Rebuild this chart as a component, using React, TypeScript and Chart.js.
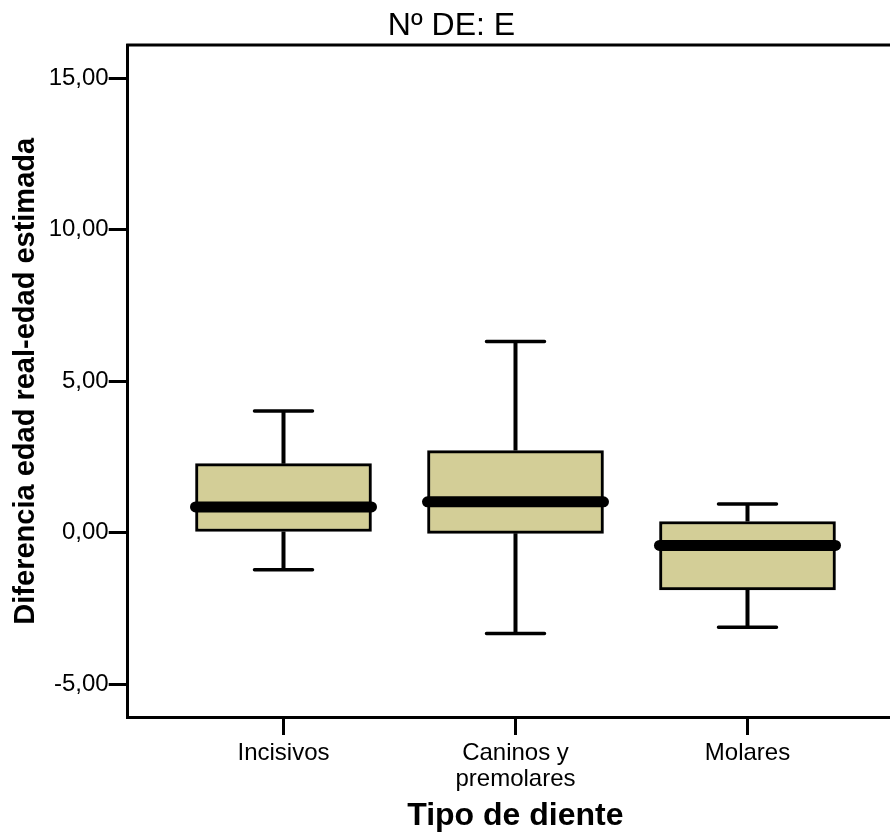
import React, { useEffect, useRef } from 'react';
import { Chart, registerables } from 'chart.js';

Chart.register(...registerables);

// ---- data ----
const categories: (string | string[])[] = ['Incisivos', ['Caninos y', 'premolares'], 'Molares'];
const whiskerLow = [-1.22, -3.33, -3.12];
const q1 = [0.04, -0.02, -1.89];
const medians = [0.85, 1.02, -0.42];
const q3 = [2.28, 2.71, 0.37];
const whiskerHigh = [4.02, 6.31, 0.95];
const yTicks = [-5, 0, 5, 10, 15];
const chartTitle = 'Nº DE: E';
const xTitle = 'Tipo de diente';
const yTitle = 'Diferencia edad real-edad estimada';

const FONT = "'Liberation Sans', Arial, Helvetica, sans-serif";
const BOX_FILL = 'rgb(211, 206, 151)';
const BOX_WIDTH = 176;

const boxPlugin = {
  id: 'boxWhiskers',
  beforeDatasetsDraw(chart: any) {
    const { ctx, chartArea } = chart;
    ctx.save();
    ctx.strokeStyle = '#000';
    ctx.lineWidth = 3;
    ctx.beginPath();
    ctx.moveTo(chartArea.left - 1.5, chartArea.top);
    ctx.lineTo(chartArea.right + 20, chartArea.top);
    ctx.stroke();
    ctx.restore();
  },
  afterDatasetsDraw(chart: any) {
    const { ctx } = chart;
    const xs = chart.scales.x;
    const ys = chart.scales.y;
    ctx.save();
    ctx.strokeStyle = '#000';
    categories.forEach((_, i) => {
      const cx = xs.getPixelForValue(i + 1);
      const yMin = ys.getPixelForValue(whiskerLow[i]);
      const yQ1 = ys.getPixelForValue(q1[i]);
      const yMed = ys.getPixelForValue(medians[i]);
      const yQ3 = ys.getPixelForValue(q3[i]);
      const yMax = ys.getPixelForValue(whiskerHigh[i]);
      // stems
      ctx.lineWidth = 4;
      ctx.lineCap = 'butt';
      ctx.beginPath();
      ctx.moveTo(cx, yQ3);
      ctx.lineTo(cx, yMax);
      ctx.moveTo(cx, yQ1);
      ctx.lineTo(cx, yMin);
      ctx.stroke();
      // caps
      ctx.lineWidth = 3.5;
      ctx.lineCap = 'round';
      ctx.beginPath();
      ctx.moveTo(cx - 29, yMax);
      ctx.lineTo(cx + 29, yMax);
      ctx.moveTo(cx - 29, yMin);
      ctx.lineTo(cx + 29, yMin);
      ctx.stroke();
      // median
      ctx.lineWidth = 11;
      ctx.lineCap = 'round';
      ctx.beginPath();
      ctx.moveTo(cx - BOX_WIDTH / 2, yMed);
      ctx.lineTo(cx + BOX_WIDTH / 2, yMed);
      ctx.stroke();
    });
    ctx.restore();
  },
};

export default function App() {
  const canvasRef = useRef<HTMLCanvasElement | null>(null);

  useEffect(() => {
    if (!canvasRef.current) return;
    const chart = new Chart(canvasRef.current, {
      type: 'bar',
      data: {
        datasets: [
          {
            data: categories.map((_, i) => ({ x: i + 1, y: [q1[i], q3[i]] })) as any,
            backgroundColor: BOX_FILL,
            borderColor: '#000',
            borderWidth: 3,
            borderSkipped: false,
            barThickness: BOX_WIDTH,
          },
        ],
      },
      options: {
        animation: false,
        responsive: false,
        devicePixelRatio: 1,
        layout: { padding: { left: 0, right: 7, top: 0, bottom: 0 } },
        plugins: {
          legend: { display: false },
          tooltip: { enabled: false },
          title: {
            display: true,
            text: chartTitle,
            color: '#000',
            font: { family: FONT, size: 32, weight: 'normal', lineHeight: 1 },
            padding: { top: 10.6, bottom: 2.4 },
          },
        },
        scales: {
          x: {
            type: 'linear',
            offset: false,
            min: 0.32845,
            max: 3.6703,
            afterBuildTicks: (scale: any) => {
              scale.ticks = categories.map((_, i) => ({ value: i + 1 }));
            },
            afterFit: (scale: any) => {
              scale.height = 116.5;
            },
            ticks: {
              color: '#000',
              font: { family: FONT, size: 24, lineHeight: 1.08 },
              padding: 5.5,
              autoSkip: false,
              maxRotation: 0,
              minRotation: 0,
              callback: (value: any) => {
                const idx = Math.round(Number(value)) - 1;
                return categories[idx] ?? '';
              },
            },
            grid: {
              offset: false,
              drawOnChartArea: false,
              drawTicks: true,
              tickLength: 17.5,
              tickWidth: 3,
              tickColor: '#000',
              color: '#000',
              lineWidth: 3,
            },
            border: { display: true, color: '#000', width: 3 },
            title: {
              display: true,
              text: xTitle,
              color: '#000',
              font: { family: FONT, size: 32, weight: 'bold', lineHeight: 1 },
              padding: { top: 0, bottom: 1.6 },
            },
          },
          y: {
            type: 'linear',
            min: -6.1,
            max: 16.1,
            afterBuildTicks: (scale: any) => {
              scale.ticks = yTicks.map((v) => ({ value: v }));
            },
            afterFit: (scale: any) => {
              scale.width = 127.7;
            },
            ticks: {
              color: '#000',
              font: { family: FONT, size: 24 },
              padding: 0,
              callback: (value: any) => Number(value).toFixed(2).replace('.', ','),
            },
            grid: {
              drawOnChartArea: false,
              drawTicks: true,
              tickLength: 19,
              tickWidth: 3,
              tickColor: '#000',
              color: '#000',
              lineWidth: 3,
            },
            border: { display: true, color: '#000', width: 3 },
            title: {
              display: true,
              text: yTitle,
              color: '#000',
              font: { family: FONT, size: 29, weight: 'bold', lineHeight: 1 },
              padding: { top: 11.3, bottom: 0 },
            },
          },
        },
      },
      plugins: [boxPlugin],
    });
    return () => chart.destroy();
  }, []);

  return (
    <div
      style={{
        position: 'fixed',
        left: 0,
        top: 0,
        width: 890,
        height: 834,
        overflow: 'hidden',
        background: '#fff',
      }}
    >
      <canvas ref={canvasRef} width={910} height={834} style={{ width: 910, height: 834, display: 'block' }} />
    </div>
  );
}
